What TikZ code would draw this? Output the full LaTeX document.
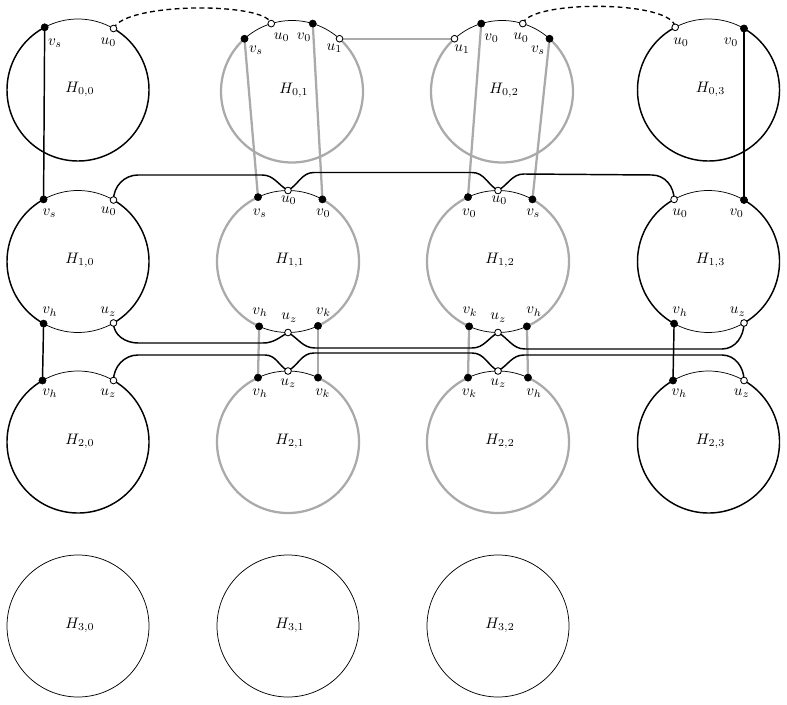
\documentclass[tikz,border=0pt]{standalone}
\definecolor{lg}{RGB}{170,170,170}
\newcommand\harc[4]{\draw[#1] (#2) ++(#3:71) arc[start angle=#3,end angle=#4,radius=71];}
\newcommand\vtx[3]{\path (#2) ++(#3:71) coordinate (#1);}
\begin{document}
\begin{tikzpicture}[x=0.75pt,y=0.75pt,
  thk/.style={line width=1.1pt,black},
  thn/.style={line width=0.55pt,black},
  gthk/.style={line width=1.7pt,lg},
  dsh/.style={line width=1pt,black,dash pattern=on 3.6pt off 2.6pt},
  fdot/.style={circle,fill=black,draw=black,line width=0.4pt,inner sep=0pt,minimum size=5.4pt},
  odot/.style={circle,fill=white,draw=black,line width=0.65pt,inner sep=0pt,minimum size=5pt},
  lbl/.style={inner sep=0pt,scale=1.14},
  hname/.style={inner sep=0pt,scale=1.14}]
\useasboundingbox (0,0) rectangle (787,-705);
% centres
\coordinate (H00) at (78,-90);    \coordinate (H01) at (292,-91.5);
\coordinate (H02) at (502,-91.5); \coordinate (H03) at (708.5,-90);
\coordinate (H10) at (78,-261.5); \coordinate (H11) at (288,-261.5);
\coordinate (H12) at (498,-261.5);\coordinate (H13) at (708.5,-261.5);
\coordinate (H20) at (78,-442);   \coordinate (H21) at (288,-442);
\coordinate (H22) at (498,-442);  \coordinate (H23) at (708.5,-442);
\coordinate (H30) at (78,-626);   \coordinate (H31) at (288,-626);
\coordinate (H32) at (498,-626);
% vertices
\vtx{H00vs}{H00}{118} \vtx{H00u0}{H00}{60}
\vtx{H01vs}{H01}{132} \vtx{H01u0}{H01}{107} \vtx{H01v0}{H01}{73} \vtx{H01u1}{H01}{48}
\vtx{H02u1}{H02}{132} \vtx{H02v0}{H02}{107} \vtx{H02u0}{H02}{73} \vtx{H02vs}{H02}{48}
\vtx{H03u0}{H03}{118} \vtx{H03v0}{H03}{60}
\vtx{H10vs}{H10}{119} \vtx{H10u0}{H10}{60} \vtx{H10vh}{H10}{241} \vtx{H10uz}{H10}{300}
\vtx{H11vs}{H11}{115} \vtx{H11u0}{H11}{90} \vtx{H11v0}{H11}{61}
\vtx{H11vh}{H11}{246} \vtx{H11uz}{H11}{270} \vtx{H11vk}{H11}{295}
\vtx{H12v0}{H12}{115} \vtx{H12u0}{H12}{90} \vtx{H12vs}{H12}{61}
\vtx{H12vk}{H12}{246} \vtx{H12uz}{H12}{270} \vtx{H12vh}{H12}{294}
\vtx{H13u0}{H13}{119} \vtx{H13v0}{H13}{60} \vtx{H13vh}{H13}{241} \vtx{H13uz}{H13}{300}
\vtx{H20vh}{H20}{120} \vtx{H20uz}{H20}{60}
\vtx{H21vh}{H21}{115} \vtx{H21uz}{H21}{90} \vtx{H21vk}{H21}{65}
\vtx{H22vk}{H22}{115} \vtx{H22uz}{H22}{90} \vtx{H22vh}{H22}{65}
\vtx{H23vh}{H23}{120} \vtx{H23uz}{H23}{60}
% circles
\harc{thk}{H00}{118}{420} \harc{thn}{H00}{60}{118}
\harc{gthk}{H01}{132}{408} \harc{thn}{H01}{48}{132}
\harc{gthk}{H02}{132}{408} \harc{thn}{H02}{48}{132}
\harc{thk}{H03}{118}{420} \harc{thn}{H03}{60}{118}
\harc{thk}{H10}{119}{241} \harc{thk}{H10}{300}{420}
\harc{thn}{H10}{60}{119} \harc{thn}{H10}{241}{300}
\harc{gthk}{H11}{115}{246} \harc{gthk}{H11}{295}{421}
\harc{thn}{H11}{61}{115} \harc{thn}{H11}{246}{295}
\harc{gthk}{H12}{115}{246} \harc{gthk}{H12}{294}{421}
\harc{thn}{H12}{61}{115} \harc{thn}{H12}{246}{294}
\harc{thk}{H13}{119}{241} \harc{thk}{H13}{300}{420}
\harc{thn}{H13}{60}{119} \harc{thn}{H13}{241}{300}
\harc{thk}{H20}{120}{420} \harc{thn}{H20}{60}{120}
\harc{gthk}{H21}{115}{425} \harc{thn}{H21}{65}{115}
\harc{gthk}{H22}{115}{425} \harc{thn}{H22}{65}{115}
\harc{thk}{H23}{120}{420} \harc{thn}{H23}{60}{120}
\draw[thn] (H30) circle[radius=71];
\draw[thn] (H31) circle[radius=71];
\draw[thn] (H32) circle[radius=71];
% straight connectors
\draw[thk] (H00vs) -- (H10vs);
\draw[thk] (H10vh) -- (H20vh);
\draw[thk] (H03v0) -- (H13v0);
\draw[thk] (H13vh) -- (H23vh);
\draw[gthk] (H01vs) -- (H11vs);
\draw[gthk] (H01v0) -- (H11v0);
\draw[gthk] (H02v0) -- (H12v0);
\draw[gthk] (H02vs) -- (H12vs);
\draw[gthk] (H01u1) -- (H02u1);
\draw[gthk] (H11vh) -- (H21vh);
\draw[gthk] (H11vk) -- (H21vk);
\draw[gthk] (H12vk) -- (H22vk);
\draw[gthk] (H12vh) -- (H22vh);
% dashed
\draw[dsh] (H00u0) .. controls (125,-2) and (266,-2) .. (H01u0);
\draw[dsh] (H02u0) .. controls (530,0) and (673,0) .. (H03u0);
% curved connectors row 1 top
\draw[thk] (H10u0) to[out=90,in=180] (138,-175) -- (262,-175) to[out=0,in=150] (H11u0);
\draw[thk] (H11u0) to[out=30,in=180] (314,-172.5) -- (472,-172.5) to[out=0,in=150] (H12u0);
\draw[thk] (H12u0) to[out=30,in=180] (524,-174) -- (652,-175) to[out=0,in=90] (H13u0);
% row 1 bottom
\draw[thk] (H10uz) to[out=-90,in=180] (138,-343) -- (263,-343) to[out=0,in=-150] (H11uz);
\draw[thk] (H11uz) to[out=-30,in=180] (315,-348) -- (472,-348) to[out=0,in=-150] (H12uz);
\draw[thk] (H12uz) to[out=-30,in=180] (525,-349) -- (722,-349) to[out=0,in=-90] (H13uz);
% row 2 top
\draw[thk] (H20uz) to[out=90,in=180] (138,-355) -- (265,-355) to[out=0,in=150] (H21uz);
\draw[thk] (H21uz) to[out=30,in=180] (314,-353) -- (472,-353) to[out=0,in=150] (H22uz);
\draw[thk] (H22uz) to[out=30,in=180] (524,-355) -- (722,-355) to[out=0,in=90] (H23uz);
% dots
\foreach \p in {H00vs,H01vs,H01v0,H02v0,H02vs,H03v0,H10vs,H10vh,H11vs,H11v0,H11vh,H11vk,
  H12v0,H12vs,H12vk,H12vh,H13v0,H13vh,H20vh,H21vh,H21vk,H22vk,H22vh,H23vh}
  {\node[fdot] (d\p) at (\p) {};}
\foreach \p in {H00u0,H01u0,H01u1,H02u1,H02u0,H03u0,H10u0,H10uz,H11u0,H11uz,
  H12u0,H12uz,H13u0,H13uz,H20uz,H21uz,H22uz,H23uz}
  {\node[odot] (d\p) at (\p) {};}
% names
\node[hname] (nH00) at (80,-89) {$H_{0,0}$};
\node[hname] (nH01) at (294,-90.5) {$H_{0,1}$};
\node[hname] (nH02) at (504,-90.5) {$H_{0,2}$};
\node[hname] (nH03) at (710.5,-89) {$H_{0,3}$};
\node[hname] (nH10) at (80,-260.5) {$H_{1,0}$};
\node[hname] (nH11) at (290,-260.5) {$H_{1,1}$};
\node[hname] (nH12) at (500,-260.5) {$H_{1,2}$};
\node[hname] (nH13) at (710.5,-260.5) {$H_{1,3}$};
\node[hname] (nH20) at (80,-441) {$H_{2,0}$};
\node[hname] (nH21) at (290,-441) {$H_{2,1}$};
\node[hname] (nH22) at (500,-441) {$H_{2,2}$};
\node[hname] (nH23) at (710.5,-441) {$H_{2,3}$};
\node[hname] (nH30) at (80,-625) {$H_{3,0}$};
\node[hname] (nH31) at (290,-625) {$H_{3,1}$};
\node[hname] (nH32) at (500,-625) {$H_{3,2}$};
% labels row 0
\node[lbl] (l00a) at (55,-43) {$v_s$};
\node[lbl] (l00b) at (108.5,-42) {$u_0$};
\node[lbl] (l01a) at (256,-50) {$v_s$};
\node[lbl] (l01b) at (281.7,-37) {$u_0$};
\node[lbl] (l01c) at (304,-37.5) {$v_0$};
\node[lbl] (l01d) at (334.5,-48) {$u_1$};
\node[lbl] (l02a) at (462,-49) {$u_1$};
\node[lbl] (l02b) at (491.5,-38) {$v_0$};
\node[lbl] (l02c) at (521,-37.7) {$u_0$};
\node[lbl] (l02d) at (538,-50) {$v_s$};
\node[lbl] (l03a) at (681,-42.3) {$u_0$};
\node[lbl] (l03b) at (731,-42.3) {$v_0$};
% labels row 1
\node[lbl] (l10a) at (49.5,-213) {$v_s$};
\node[lbl] (l10b) at (108.7,-211) {$u_0$};
\node[lbl] (l10c) at (50,-311.7) {$v_h$};
\node[lbl] (l10d) at (108.3,-311.7) {$u_z$};
\node[lbl] (l11a) at (259.7,-213) {$v_s$};
\node[lbl] (l11b) at (288.8,-200.5) {$u_0$};
\node[lbl] (l11c) at (323.3,-213) {$v_0$};
\node[lbl] (l11d) at (260,-312) {$v_h$};
\node[lbl] (l11e) at (289.2,-317.7) {$u_z$};
\node[lbl] (l11f) at (323.3,-312) {$v_k$};
\node[lbl] (l12a) at (469.3,-213.3) {$v_0$};
\node[lbl] (l12b) at (499.3,-200.3) {$u_0$};
\node[lbl] (l12c) at (533.3,-213.3) {$v_s$};
\node[lbl] (l12d) at (470,-311.7) {$v_k$};
\node[lbl] (l12e) at (498.3,-317.7) {$u_z$};
\node[lbl] (l12f) at (534,-311.7) {$v_h$};
\node[lbl] (l13a) at (680,-213.3) {$u_0$};
\node[lbl] (l13b) at (736.7,-213.3) {$v_0$};
\node[lbl] (l13c) at (680,-311.7) {$v_h$};
\node[lbl] (l13d) at (737.7,-311.7) {$u_z$};
% labels row 2
\node[lbl] (l20a) at (50,-393.3) {$v_h$};
\node[lbl] (l20b) at (108.3,-393.3) {$u_z$};
\node[lbl] (l21a) at (260,-393.3) {$v_h$};
\node[lbl] (l21b) at (288.3,-383.3) {$u_z$};
\node[lbl] (l21c) at (322.7,-393.3) {$v_k$};
\node[lbl] (l22a) at (469.3,-393.3) {$v_k$};
\node[lbl] (l22b) at (498.3,-383.3) {$u_z$};
\node[lbl] (l22c) at (534,-393.3) {$v_h$};
\node[lbl] (l23a) at (679.3,-393.3) {$v_h$};
\node[lbl] (l23b) at (741.7,-393.3) {$u_z$};
\end{tikzpicture}
\end{document}
